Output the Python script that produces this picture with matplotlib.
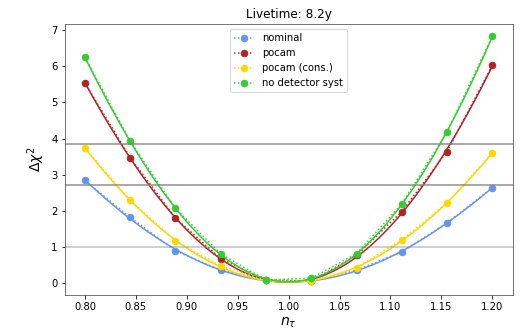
import numpy as np
import matplotlib
matplotlib.use("Agg")
import matplotlib.pyplot as plt

n_tau = np.linspace(0.8, 1.2, 10)
nominal = [2.84, 1.82, 0.90, 0.36, 0.09, 0.06, 0.36, 0.87, 1.67, 2.64]
pocam = [5.53, 3.47, 1.80, 0.68, 0.09, 0.06, 0.77, 1.98, 3.64, 6.02]
pocam_cons = [3.74, 2.29, 1.17, 0.48, 0.09, 0.05, 0.43, 1.20, 2.22, 3.60]
no_det = [6.24, 3.92, 2.07, 0.81, 0.09, 0.14, 0.82, 2.19, 4.18, 6.82]

series = [
    ("nominal", nominal, "cornflowerblue"),
    ("pocam", pocam, "firebrick"),
    ("pocam (cons.)", pocam_cons, "gold"),
    ("no detector syst", no_det, "limegreen"),
]
thresholds = [1.0, 2.71, 3.84]

fig = plt.figure(figsize=(521 / 72, 331 / 72), dpi=72)
ax = fig.add_axes([0.124, 0.110, 0.860, 0.817])

xf = np.linspace(n_tau[0], n_tau[-1], 200)
for label, vals, col in series:
    ax.plot(n_tau, vals, ":o", color=col, label=label, lw=1.5, ms=6.5)
    coef = np.polyfit(n_tau, vals, 4)
    ax.plot(xf, np.polyval(coef, xf), "-", color=col, lw=1.5)

ax.axhline(thresholds[0], color="gray", lw=1.5, alpha=0.5)
ax.axhline(thresholds[1], color="gray", lw=1.5, alpha=0.9)
ax.axhline(thresholds[2], color="gray", lw=1.5, alpha=0.9)

ax.set_title("Livetime: 8.2y", fontsize=12)
ax.set_xlabel(r"$n_\tau$", fontsize=14)
ax.set_ylabel(r"$\Delta\chi^2$", fontsize=14)
ax.set_xticks([0.80, 0.85, 0.90, 0.95, 1.00, 1.05, 1.10, 1.15, 1.20])
ax.set_xticklabels(["0.80", "0.85", "0.90", "0.95", "1.00", "1.05", "1.10", "1.15", "1.20"])
for s in ax.spines.values():
    s.set_color("#555555")
ax.legend(loc="upper center", fontsize=10)

fig.savefig("out.png", dpi=72)
